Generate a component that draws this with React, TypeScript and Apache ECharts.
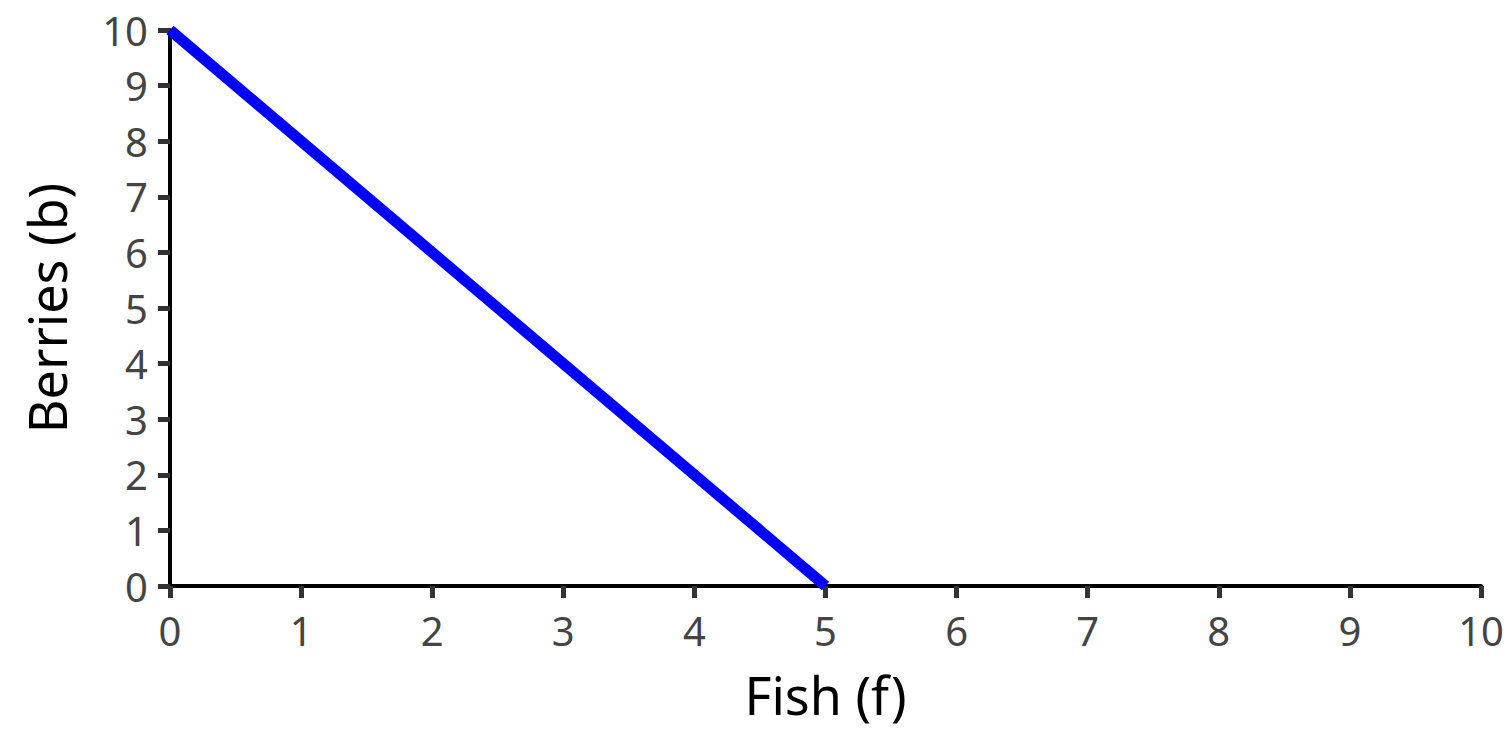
import React, { useEffect, useRef } from "react";
import * as echarts from "echarts";

const fishValues = [0, 5];
const berryValues = [10, 0];
const xTicks = [0, 10];
const yTicks = [0, 10];
const xTitle = "Fish (f)";
const yTitle = "Berries (b)";

const FONT = "'Noto Sans', 'Open Sans', sans-serif";

export default function App() {
  const ref = useRef<HTMLDivElement>(null);
  useEffect(() => {
    if (!ref.current) return;
    const chart = echarts.init(ref.current, null, { renderer: "svg" });
    const axisCommon = {
      type: "value",
      interval: 1,
      nameLocation: "middle",
      nameTextStyle: { fontFamily: FONT, fontSize: 52, color: "#000" },
      axisLine: { show: true, onZero: false, lineStyle: { color: "#000", width: 4 } },
      axisTick: { show: true, length: 12, inside: false, lineStyle: { color: "#333", width: 5 } },
      axisLabel: { fontFamily: FONT, fontSize: 40, color: "#444" },
      splitLine: { show: false },
    };
    chart.setOption({
      animation: false,
      grid: { left: 170, right: 31, top: 30, bottom: 170, containLabel: false },
      xAxis: {
        ...axisCommon,
        min: xTicks[0],
        max: xTicks[1],
        name: xTitle,
        nameGap: 82,
        axisLabel: { ...axisCommon.axisLabel, margin: 24 },
      },
      yAxis: {
        ...axisCommon,
        min: yTicks[0],
        max: yTicks[1],
        name: yTitle,
        nameGap: 98,
        axisLabel: { ...axisCommon.axisLabel, margin: 22 },
      },
      series: [
        {
          type: "line",
          data: fishValues.map((f, i) => [f, berryValues[i]]),
          symbol: "none",
          lineStyle: { color: "#0000ff", width: 11, cap: "butt" },
          clip: true,
        },
      ],
    });
    return () => chart.dispose();
  }, []);
  return <div ref={ref} style={{ width: 1512, height: 756, margin: -8 }} />;
}
